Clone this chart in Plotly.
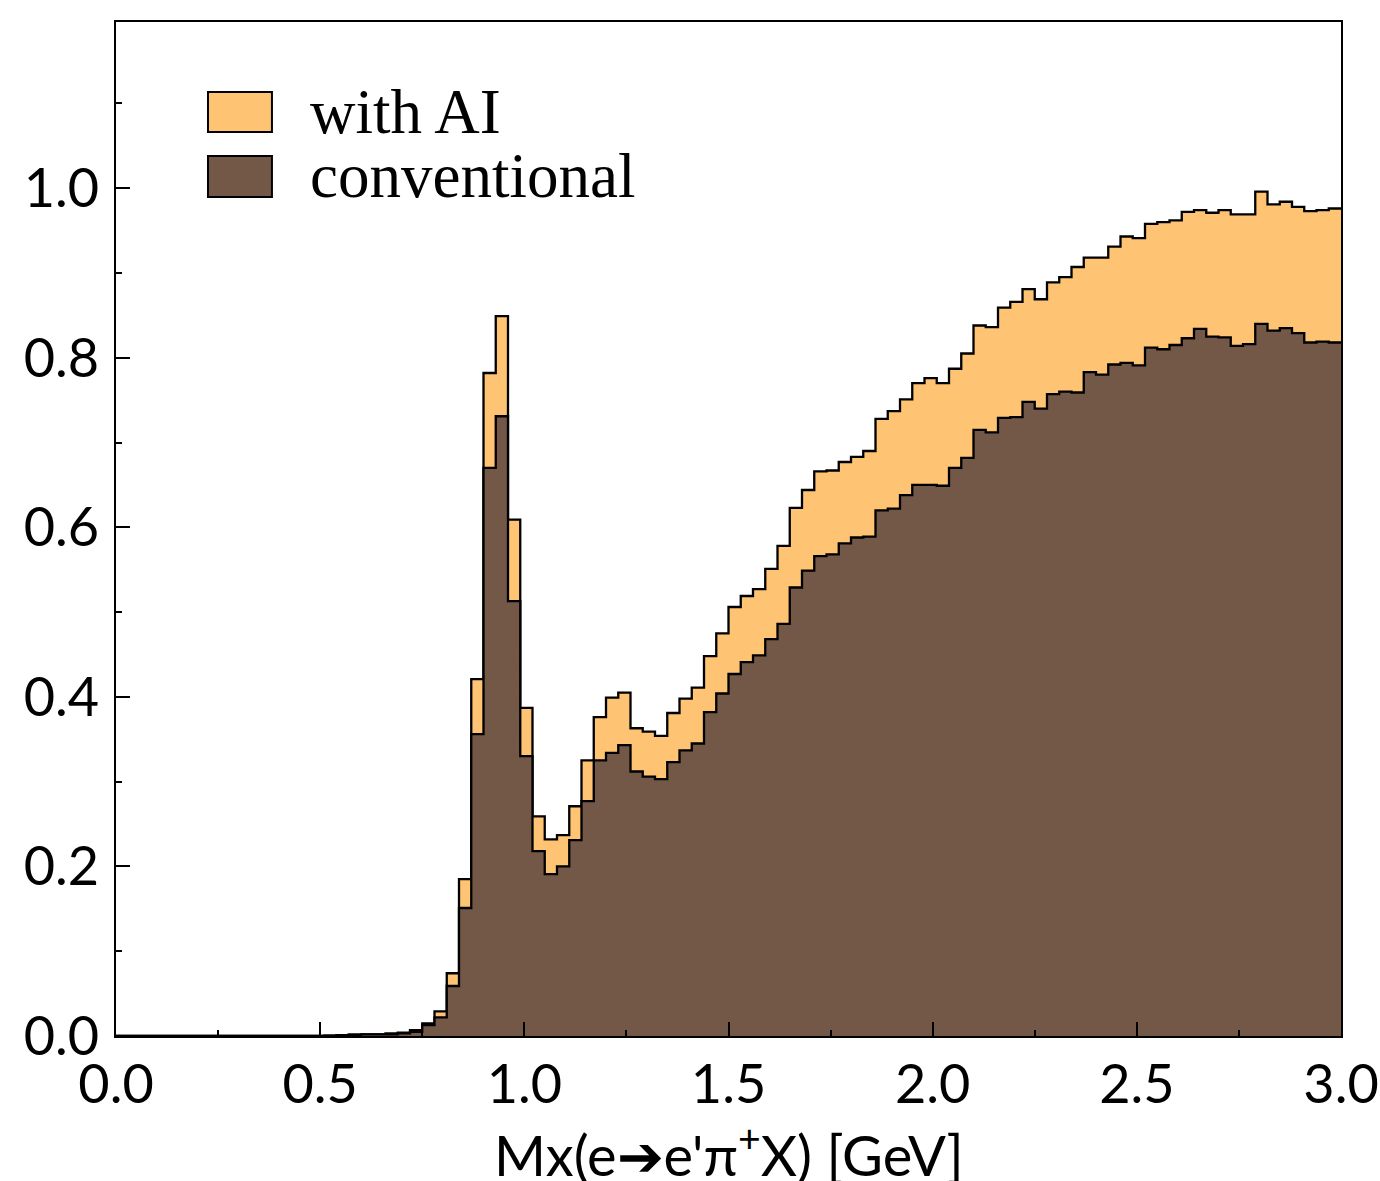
import numpy as np
import plotly.graph_objects as go

# ---- data ----
bin_lo, bin_hi, n_bins = 0.0, 3.0, 100

with_ai = [
    0, 0, 0, 0, 0, 0, 0, 0, 0, 0,
    0, 0, 0, 0, 0, 0, 0, 0.0005, 0.001, 0.0015,
    0.002, 0.002, 0.003, 0.004, 0.007, 0.015, 0.029, 0.074, 0.185, 0.421,
    0.782, 0.849, 0.609, 0.387, 0.259, 0.232, 0.237, 0.271, 0.325, 0.376,
    0.399, 0.405, 0.363, 0.359, 0.354, 0.381, 0.398, 0.411, 0.448, 0.475,
    0.506, 0.519, 0.527, 0.551, 0.578, 0.623, 0.644, 0.666, 0.667, 0.677,
    0.683, 0.690, 0.728, 0.737, 0.751, 0.770, 0.776, 0.770, 0.787, 0.805,
    0.838, 0.836, 0.859, 0.866, 0.881, 0.869, 0.889, 0.895, 0.907, 0.918,
    0.918, 0.931, 0.943, 0.941, 0.958, 0.960, 0.962, 0.972, 0.974, 0.971,
    0.974, 0.969, 0.969, 0.996, 0.981, 0.984, 0.978, 0.973, 0.974, 0.976,
]

conventional = [
    0, 0, 0, 0, 0, 0, 0, 0, 0, 0,
    0, 0, 0, 0, 0, 0, 0, 0.0005, 0.001, 0.0015,
    0.002, 0.002, 0.002, 0.003, 0.005, 0.013, 0.022, 0.059, 0.151, 0.356,
    0.670, 0.731, 0.513, 0.330, 0.218, 0.191, 0.200, 0.231, 0.277, 0.325,
    0.334, 0.343, 0.312, 0.306, 0.303, 0.323, 0.337, 0.345, 0.382, 0.404,
    0.427, 0.441, 0.449, 0.468, 0.486, 0.529, 0.549, 0.566, 0.568, 0.581,
    0.588, 0.589, 0.620, 0.622, 0.638, 0.650, 0.650, 0.649, 0.670, 0.682,
    0.715, 0.712, 0.729, 0.730, 0.748, 0.740, 0.757, 0.760, 0.759, 0.783,
    0.780, 0.792, 0.794, 0.791, 0.812, 0.810, 0.815, 0.823, 0.834, 0.825,
    0.824, 0.814, 0.816, 0.840, 0.832, 0.835, 0.829, 0.818, 0.819, 0.818,
]

series_names = ["with AI", "conventional"]
series_colors = ["#FFC374", "#735747"]

x_ticks = [0.0, 0.5, 1.0, 1.5, 2.0, 2.5, 3.0]
y_ticks = [0.0, 0.2, 0.4, 0.6, 0.8, 1.0]
x_title = "Mx(e\u2794e'\u03c0<sup>+</sup>X) [GeV]"

# ---- figure ----
edges = np.linspace(bin_lo, bin_hi, n_bins + 1)

fig = go.Figure()
for vals, name, col in zip([with_ai, conventional], series_names, series_colors):
    y = list(vals) + [vals[-1]]
    fig.add_trace(go.Scatter(
        x=edges, y=y, mode="lines", line_shape="hv",
        line=dict(color="black", width=2.3),
        fill="tozeroy", fillcolor=col, name=name, showlegend=False,
    ))

tick_font = dict(family="Lato, Inter, sans-serif", size=54, color="black")
title_font = dict(family="Lato, Inter, sans-serif", size=56, color="black")

fig.update_xaxes(
    range=[0, 3.0], tickvals=x_ticks, ticktext=[f"{v:.1f}" for v in x_ticks],
    ticks="inside", ticklen=14, tickwidth=2, tickcolor="black",
    minor=dict(ticks="inside", ticklen=6, tickwidth=2, tickcolor="black", dtick=0.25, tick0=0),
    showline=True, linecolor="black", linewidth=2, mirror=True,
    showgrid=False, zeroline=False, tickfont=tick_font,
    ticklabelstandoff=0, automargin=False,
)
fig.update_yaxes(
    range=[0, 1.196], tickvals=y_ticks, ticktext=[f"{v:.1f}" for v in y_ticks],
    ticks="inside", ticklen=14, tickwidth=2, tickcolor="black",
    minor=dict(ticks="inside", ticklen=6, tickwidth=2, tickcolor="black", dtick=0.1, tick0=0),
    showline=True, linecolor="black", linewidth=2, mirror=True,
    showgrid=False, zeroline=False, tickfont=tick_font,
    ticklabelstandoff=4, automargin=False,
)

# x-axis title placed as text below the tick labels
fig.add_annotation(xref="paper", yref="paper", x=0.5, y=-0.113,
                   text=x_title, showarrow=False, xanchor="center", yanchor="middle",
                   font=title_font)

# ---- legend (drawn manually to match the large swatches) ----
legend_font = dict(family="Liberation Serif, DejaVu Serif, serif", size=63, color="black")
boxes = [(0.8915, 0.931), (0.8274, 0.8679)]
for (y0, y1), name, col in zip(boxes, series_names, series_colors):
    fig.add_shape(type="rect", xref="paper", yref="paper",
                  x0=0.0751, x1=0.1273, y0=y0, y1=y1,
                  fillcolor=col, line=dict(color="black", width=2))
    fig.add_annotation(xref="paper", yref="paper", x=0.1567, y=(y0 + y1) / 2,
                       text=name, showarrow=False, xanchor="left", yanchor="middle",
                       font=legend_font)

fig.update_layout(
    width=1380, height=1181,
    margin=dict(l=116, r=39, t=22, b=145),
    plot_bgcolor="white", paper_bgcolor="white",
)

fig.write_html("out.html", config={"displayModeBar": False},
               post_script="document.body.style.margin='0';")
